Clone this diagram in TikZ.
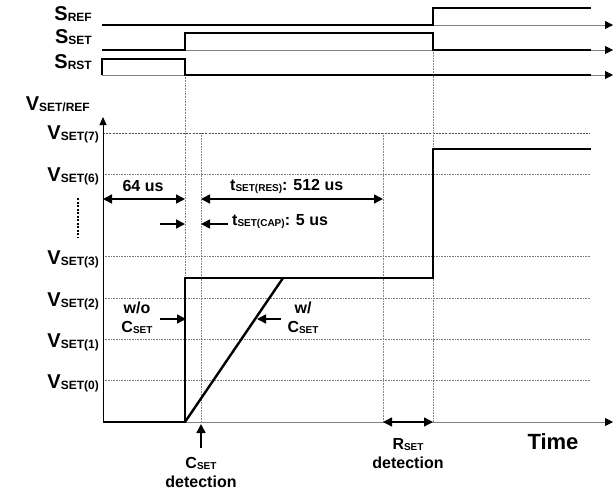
\documentclass[tikz,border=0pt]{standalone}
\usepackage{fontspec}
\setmainfont{Liberation Sans}
\usetikzlibrary{arrows.meta}
\newcommand{\subbig}[1]{\raisebox{-1.5pt}{\fontsize{12}{12}\selectfont #1}}
\newcommand{\subsm}[1]{\raisebox{-1pt}{\fontsize{10}{10}\selectfont #1}}

\begin{document}
\begin{tikzpicture}[x=1pt, y=-1pt,
    biglbl/.style = {font=\fontsize{20}{22}\selectfont\bfseries, inner sep=0pt, anchor=base east},
    txt/.style = {font=\fontsize{16}{19}\selectfont\bfseries, inner sep=0pt, align=center},
    wave/.style = {line width=2.8pt, line join=miter},
    sigaxis/.style = {gray, line width=0.8pt, -{Triangle[length=8pt,width=8pt,black]}},
    grid/.style = {gray, line width=0.6pt, densely dotted},
    limit/.style = {black!70, line width=0.8pt, dash pattern=on 2pt off 1.2pt},
    dim/.style = {line width=1.6pt, {Triangle[length=9pt,width=9pt]}-{Triangle[length=9pt,width=9pt]}},
    onedim/.style = {line width=1.6pt, -{Triangle[length=9pt,width=9pt]}}]
    \useasboundingbox (0,0) rectangle (614,491);
    % signal labels
    \node[biglbl] (sref) at (92,20) {S\subbig{REF}};
    \node[biglbl] (sset) at (92,43) {S\subbig{SET}};
    \node[biglbl] (srst) at (92,68) {S\subbig{RST}};
    \node[biglbl] (vsetref) at (90,110) {V\subbig{SET/REF}};
    % signal axes
    \foreach \y in {25,50,75}
        \draw[sigaxis] (102,\y) -- (613,\y);
    % grid
    \foreach \y in {174,256,298,339,380}
        \draw[grid] (103,\y) -- (590,\y);
    \draw[limit] (103,133) -- (590,133);
    \draw[grid] (185,75) -- (185,422);
    \draw[grid] (433,50) -- (433,422);
    \draw[grid] (201,133) -- (201,422);
    \draw[grid] (383,133) -- (383,422);
    % level labels
    \node[biglbl] (v7) at (99,139) {V\subbig{SET(7)}};
    \node[biglbl] (v6) at (99,181) {V\subbig{SET(6)}};
    \node[biglbl] (v3) at (99,264) {V\subbig{SET(3)}};
    \node[biglbl] (v2) at (99,306) {V\subbig{SET(2)}};
    \node[biglbl] (v1) at (99,347) {V\subbig{SET(1)}};
    \node[biglbl] (v0) at (99,388) {V\subbig{SET(0)}};
    \draw[line width=1.6pt, dash pattern=on 2pt off 1.5pt] (78,198) -- (78,238);
    % axes
    \draw[sigaxis] (103,422) -- (613,422);
    \draw[line width=0.8pt, -{Triangle[length=8pt,width=7pt]}] (103,422) -- (103,117);
    % waveforms
    \draw[wave] (102,25) -- (433,25) -- (433,8) -- (591,8);
    \draw[wave] (102,50) -- (185,50) -- (185,33) -- (433,33) -- (433,50) -- (591,50);
    \draw[wave] (102,75) -- (102,59) -- (185,59) -- (185,75) -- (591,75);
    \draw[wave] (103,422) -- (185,422) -- (185,278) -- (433,278) -- (433,149) -- (591,149);
    \draw[line width=2.4pt] (185,422) -- (283,278);
    % timing
    \coordinate (t0) at (103,199);
    \coordinate (t1) at (185,199);
    \coordinate (t2) at (201,199);
    \coordinate (t3) at (383,199);
    \draw[dim] (t0) -- (t1);
    \draw[dim] (t2) -- (t3);
    \node[txt] (t64) at (143,186) {64 us};
    \node[txt, anchor=west] (tres) at (230,186) {t\subsm{SET(RES)}: 512 us};
    \draw[onedim] (160,224) -- (185,224);
    \draw[onedim] (228,224) -- (201,224);
    \node[txt, anchor=west] (tcap) at (232,222) {t\subsm{SET(CAP)}: 5 us};
    % with and without cap
    \node[txt] (wo) at (137,318) {w/o\\C\subsm{SET}};
    \draw[onedim] (160,319) -- (186,319);
    \node[txt] (w) at (303,318) {w/\\C\subsm{SET}};
    \draw[onedim] (281,319) -- (257,319);
    % detection
    \node[txt] (cdet) at (201,472) {C\subsm{SET}\\detection};
    \coordinate (cdetarrow) at (201,448);
    \draw[onedim] (cdetarrow) -- (201,424);
    \draw[dim] (383,422) -- (433,422);
    \node[txt] (rdet) at (408,454) {R\subsm{SET}\\detection};
    \node[txt, font=\fontsize{22}{22}\selectfont\bfseries] (time) at (553,442) {Time};
\end{tikzpicture}
\end{document}
